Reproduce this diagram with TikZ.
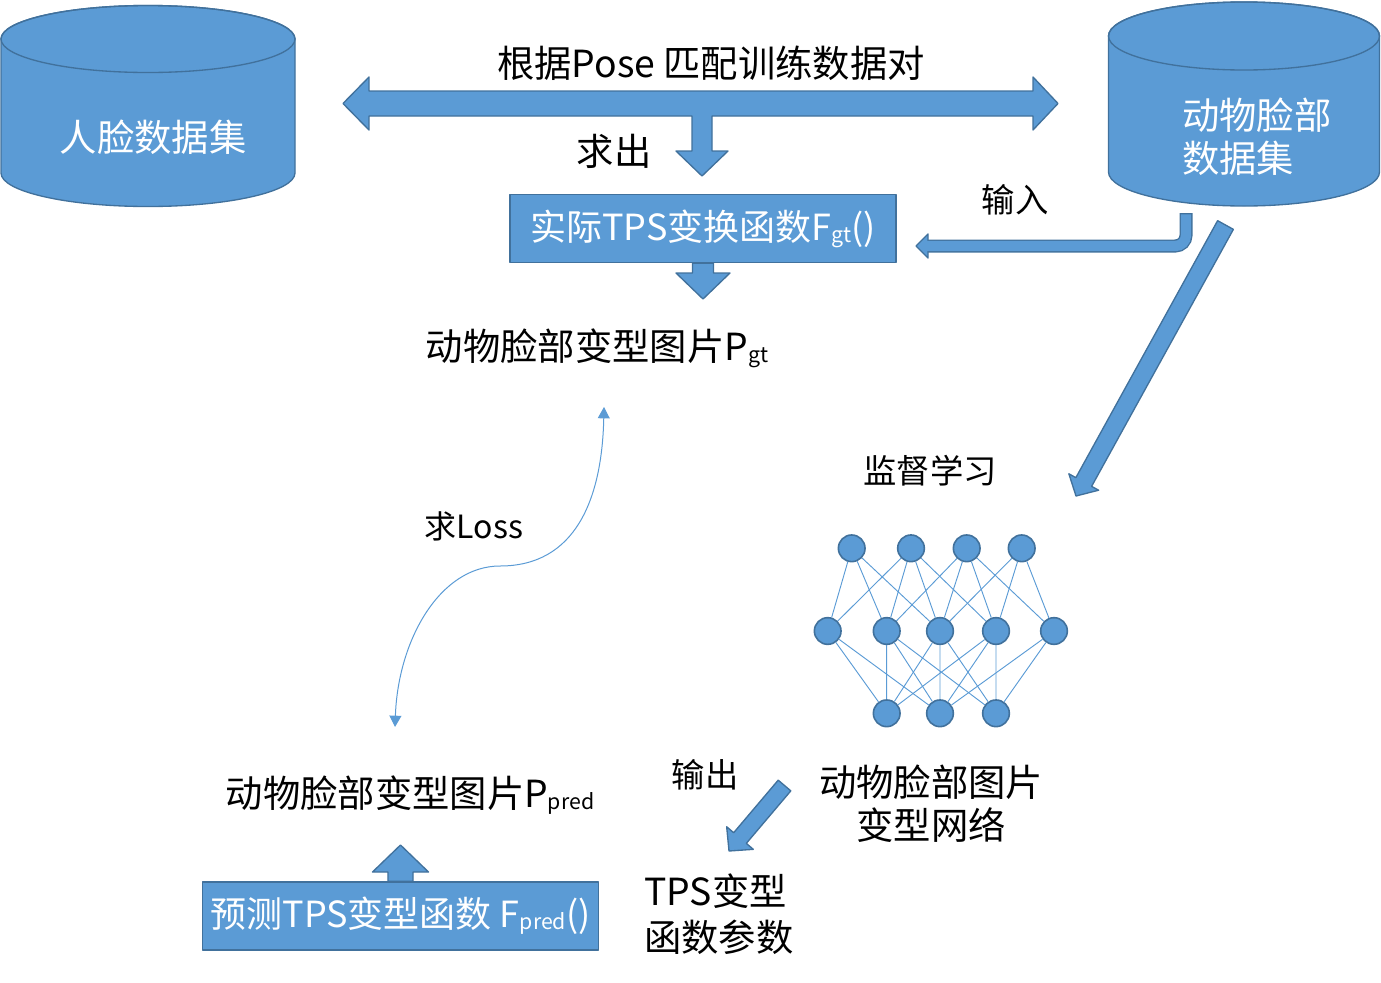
\documentclass[tikz,border=0pt]{standalone}
\usepackage{fontspec}
\setmainfont{Noto Sans CJK SC}
\usetikzlibrary{calc,arrows.meta}
\definecolor{boxblue}{RGB}{91,155,213}
\definecolor{edgeblue}{RGB}{65,113,156}
\tikzset{
  blk/.style={fill=boxblue,draw=edgeblue,line width=1pt,line join=round},
  lbl/.style={inner sep=0pt,font=\fontsize{28}{32}\selectfont},
  small/.style={inner sep=0pt,font=\fontsize{25}{30}\selectfont},
  whitelbl/.style={lbl,text=white},
  fnbox/.style={blk,rectangle,inner sep=0pt,minimum width=289.5pt,minimum height=51pt,
    text=white,font=\fontsize{27}{32}\selectfont},
  neuron/.style={circle,fill=boxblue,draw=edgeblue,line width=1.2pt,inner sep=0pt,minimum size=20pt},
  wire/.style={draw=boxblue,line width=0.7pt}
}
% small index after F and P
\newcommand{\idx}[1]{\raisebox{-1.5pt}{\fontsize{16}{16}\selectfont #1}}
% block arrow: tail, tip, half shaft, half head, head length
\newcommand{\blockarrow}[5]{%
  \coordinate (ba-base) at ($(#2)!#5!(#1)$);
  \filldraw[blk] ($(#1)!#3!90:(#2)$) -- ($(ba-base)!#3!-90:(#1)$) -- ($(ba-base)!#4!-90:(#1)$) -- (#2)
    -- ($(ba-base)!#4!90:(#1)$) -- ($(ba-base)!#3!90:(#1)$) -- ($(#1)!#3!-90:(#2)$) -- cycle;}

\begin{document}
\begin{tikzpicture}[x=0.75pt,y=-0.75pt]
   \useasboundingbox (0,0) rectangle (1381,982);
   % the two data sets
   \filldraw[blk] (1,39) -- (1,173) arc[start angle=180,end angle=0,x radius=147,y radius=33.5]
      -- (295,39) arc[start angle=0,end angle=-180,x radius=147,y radius=33.5] -- cycle;
   \draw[edgeblue,line width=1pt] (148,39) ellipse[x radius=147,y radius=33.5];
   \node[whitelbl] (facedb) at (153,137) {人脸数据集};
   \filldraw[blk] (1108.5,36) -- (1108.5,172) arc[start angle=180,end angle=0,x radius=135.5,y radius=34]
      -- (1379.5,36) arc[start angle=0,end angle=-180,x radius=135.5,y radius=34] -- cycle;
   \draw[edgeblue,line width=1pt] (1244,36) ellipse[x radius=135.5,y radius=34];
   \node[whitelbl,align=left,anchor=west] (animaldb) at (1182,137) {动物脸部\\数据集};
   % pose matching arrow
   \filldraw[blk] (343,103.5) -- (369,77) -- (369,91) -- (1033,91) -- (1033,77) -- (1058,103.5)
      -- (1033,130) -- (1033,116) -- (712,116) -- (712,151) -- (728,151) -- (702,176)
      -- (676,151) -- (692,151) -- (692,116) -- (369,116) -- (369,130) -- cycle;
   \node[lbl] (pairlbl) at (711,63) {根据Pose 匹配训练数据对};
   \node[lbl] (qiuchu) at (614,151) {求出};
   % ground truth
   \node[fnbox] (fgtbox) at (703,228.5) {实际TPS变换函数F\idx{gt}()};
   \coordinate (pgttip) at (703,299);
   \blockarrow{fgtbox.south}{pgttip}{7.9pt}{20.25pt}{19.5pt}
   \node[lbl] (pgtlbl) at (597,348) {动物脸部变型图片P\idx{gt}};
   % input arrow
   \coordinate (dogout) at (1186,213);
   \coordinate (fgtin) at (916,246);
   \draw[edgeblue,line width=9.75pt,rounded corners=8pt] (dogout) -- (1186,246) -- (928,246);
   \filldraw[blk] (928,234) -- (fgtin) -- (928,258) -- cycle;
   \draw[boxblue,line width=7.75pt,rounded corners=8pt] (1186,214.4) -- (1186,246) -- (926,246);
   \node[small] (inputlbl) at (1015,200) {输入};
   \coordinate (dogtail) at (1225.5,225);
   \coordinate (nettip) at (1076,496);
   \blockarrow{dogtail}{nettip}{6.75pt}{12.75pt}{12pt}
   \node[small] (suplbl) at (930,471) {监督学习};
   % network
   \node[neuron] (t1) at (851.7,548.3) {};
   \node[neuron] (t2) at (911,548.3) {};
   \node[neuron] (t3) at (966.7,548.3) {};
   \node[neuron] (t4) at (1021.7,548.3) {};
   \node[neuron] (m1) at (827.7,631) {};
   \node[neuron] (m2) at (886.7,631) {};
   \node[neuron] (m3) at (940,631) {};
   \node[neuron] (m4) at (996,631) {};
   \node[neuron] (m5) at (1054,631) {};
   \node[neuron] (b1) at (886.7,713.3) {};
   \node[neuron] (b2) at (940,713.3) {};
   \node[neuron] (b3) at (996,713.3) {};
   \draw[wire] (t1) -- (m1) (t1) -- (m2) (t1) -- (m3);
   \draw[wire] (t2) -- (m1) (t2) -- (m2) (t2) -- (m3) (t2) -- (m4);
   \draw[wire] (t3) -- (m2) (t3) -- (m3) (t3) -- (m4) (t3) -- (m5);
   \draw[wire] (t4) -- (m3) (t4) -- (m4) (t4) -- (m5);
   \draw[wire] (m1) -- (b1) (m1) -- (b2);
   \draw[wire] (m2) -- (b1) (m2) -- (b2) (m2) -- (b3);
   \draw[wire] (m3) -- (b1) (m3) -- (b2) (m3) -- (b3);
   \draw[wire] (m4) -- (b1) (m4) -- (b2) (m4) -- (b3);
   \draw[wire] (m5) -- (b2) (m5) -- (b3);
   \node[lbl,align=center] (netlbl) at (931,804) {动物脸部图片\\变型网络};
   % output
   \node[small] (outlbl) at (705,775) {输出};
   \coordinate (outtail) at (784.5,785.5);
   \coordinate (outtip) at (729,851);
   \blockarrow{outtail}{outtip}{6.2pt}{13.1pt}{12.75pt}
   \node[lbl,align=left,anchor=west,font=\fontsize{28}{34.5}\selectfont] (paramlbl) at (644,914) {TPS变型\\函数参数};
   % prediction
   \node[fnbox,minimum width=297pt] (fpredbox) at (400.5,916) {预测TPS变型函数 F\idx{pred}()};
   \coordinate (ppredtip) at (400.5,845);
   \blockarrow{fpredbox.north}{ppredtip}{9.4pt}{21pt}{20.25pt}
   \node[lbl] (ppredlbl) at (410,795) {动物脸部变型图片P\idx{pred}};
   % loss
   \coordinate (losstop) at (604,407);
   \coordinate (lossmid) at (500,566);
   \coordinate (lossbot) at (395,727);
   \draw[boxblue,line width=0.75pt,{Triangle[width=9pt,length=8.5pt]}-{Triangle[width=9pt,length=8.5pt]}]
      (losstop) .. controls (602,500) and (575,566) .. (lossmid) .. controls (440,566) and (398,640) .. (lossbot);
   \node[lbl,font=\fontsize{24}{28}\selectfont] (losslbl) at (474,526) {求Loss};
\end{tikzpicture}
\end{document}
